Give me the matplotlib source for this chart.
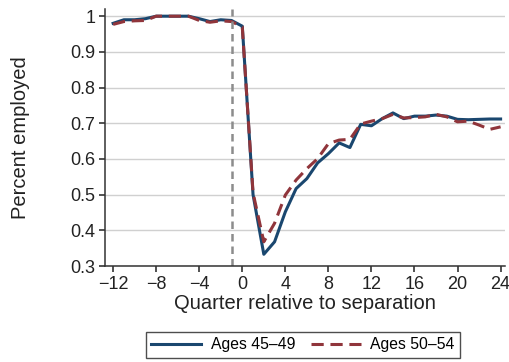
import matplotlib.pyplot as plt

plt.rcParams["font.family"] = ["Liberation Sans", "DejaVu Sans"]

quarters = list(range(-12, 25))
ages_45_49 = [0.980, 0.990, 0.990, 0.993, 1.000, 1.000, 1.000, 1.000, 0.993, 0.985,
              0.990, 0.988, 0.972, 0.500, 0.333, 0.368, 0.452, 0.517, 0.545, 0.589,
              0.615, 0.645, 0.632, 0.697, 0.693, 0.713, 0.729, 0.713, 0.720, 0.720,
              0.723, 0.720, 0.711, 0.710, 0.711, 0.712, 0.712]
ages_50_54 = [0.977, 0.985, 0.987, 0.988, 1.000, 1.000, 1.000, 1.000, 0.988, 0.983,
              0.987, 0.985, 0.970, 0.505, 0.368, 0.420, 0.499, 0.541, 0.573, 0.601,
              0.643, 0.653, 0.655, 0.698, 0.706, 0.713, 0.725, 0.715, 0.716, 0.718,
              0.725, 0.718, 0.704, 0.706, 0.695, 0.683, 0.690]
separation_quarter = -1

fig = plt.figure(figsize=(5.1, 3.62), dpi=100)
ax = fig.add_axes([0.206, 0.265, 0.784, 0.71])

ax.plot(quarters, ages_45_49, color="#1a476f", lw=2.2, label="Ages 45\u201349")
ax.plot(quarters, ages_50_54, color="#90353b", lw=2.2, ls=(0, (4, 2.2)),
        label="Ages 50\u201354")
ax.axvline(separation_quarter, color="#8c8c8c", lw=1.8, ls=(0, (3, 2)))

ax.set_xlim(-12.75, 24.4)
ax.set_ylim(0.3, 1.02)
ax.set_xticks(range(-12, 25, 4))
ax.set_yticks([0.3, 0.4, 0.5, 0.6, 0.7, 0.8, 0.9, 1.0])
ax.set_yticklabels(["0.3", "0.4", "0.5", "0.6", "0.7", "0.8", "0.9", "1"])
ax.grid(axis="y", color="#d0d0d0", lw=1)
ax.set_axisbelow(True)
for side in ["top", "right"]:
    ax.spines[side].set_visible(False)
for side in ["left", "bottom"]:
    ax.spines[side].set_color("#333333")
    ax.spines[side].set_linewidth(1.1)
ax.tick_params(labelsize=13, colors="#222222", length=4, width=1.1, pad=3)

ax.set_xlabel("Quarter relative to separation", fontsize=14.5, color="#222222", labelpad=1)
ax.set_ylabel("Percent employed", fontsize=14.5, color="#222222", labelpad=29)

leg = fig.legend(loc="lower center", bbox_to_anchor=(0.594, -0.01), ncol=2,
                 fontsize=11.3, frameon=True, fancybox=False, handlelength=3.2,
                 columnspacing=1.0, borderpad=0.35, handletextpad=0.6)
leg.get_frame().set_edgecolor("#222222")
leg.get_frame().set_linewidth(1)

fig.savefig("out.png", dpi=100)
